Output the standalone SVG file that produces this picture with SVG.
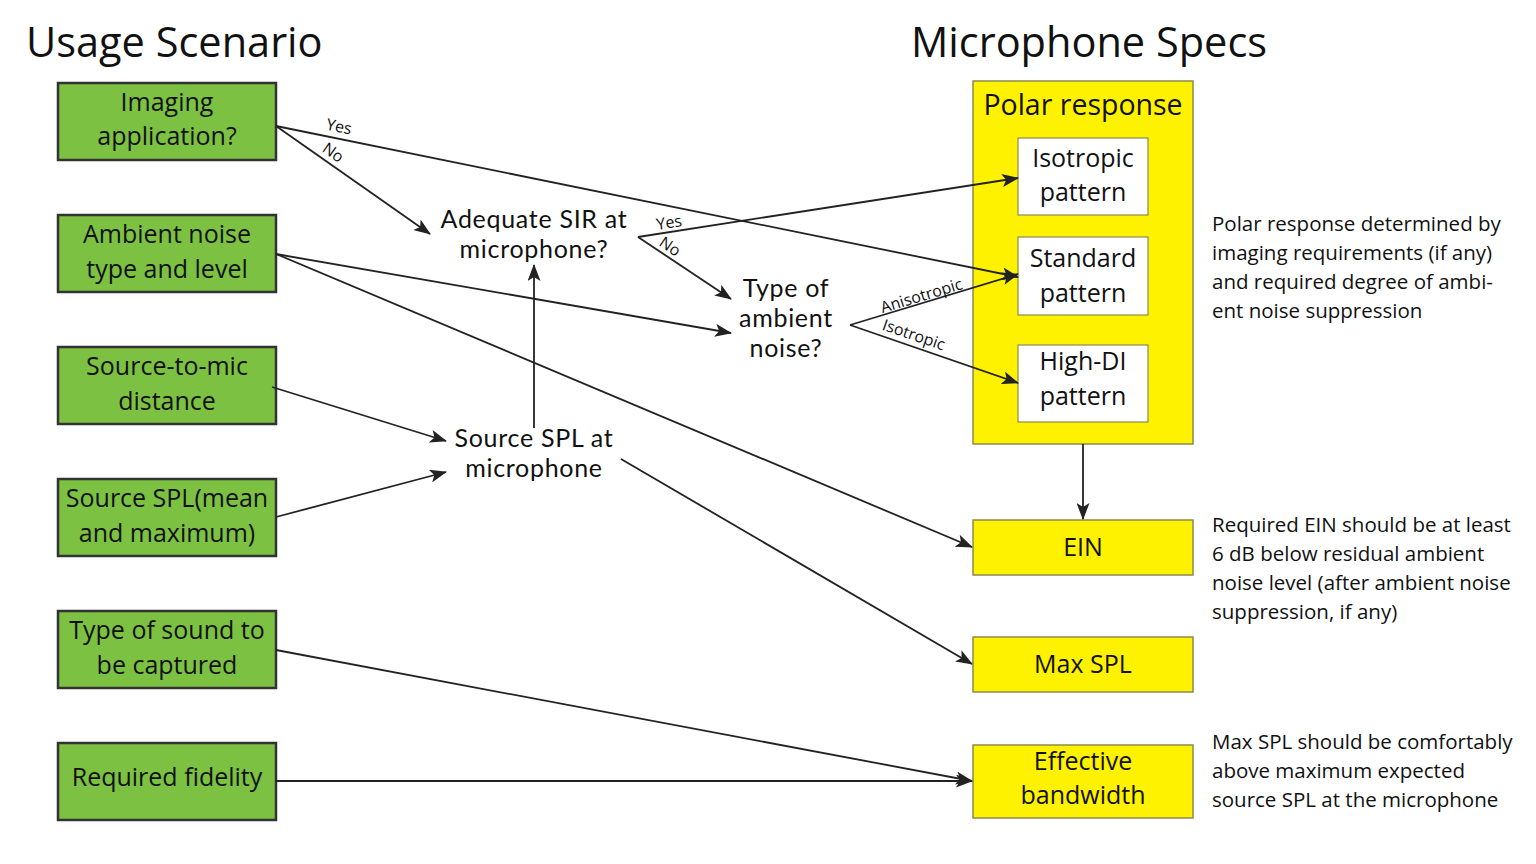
<svg xmlns="http://www.w3.org/2000/svg" width="1536" height="864" viewBox="0 0 1536 864">
<defs>
<marker id="ah" markerWidth="17" markerHeight="13" refX="16" refY="6.5" orient="auto" markerUnits="userSpaceOnUse">
<path d="M0,0 L17,6.5 L0,13 L4,6.5 z" fill="#222"/>
</marker>
<style>
text{font-family:"Open Sans",Lato,"Liberation Sans",sans-serif;fill:#111}
.title{font-size:41.5px}
.g{fill:#7dc142;stroke:#333;stroke-width:2.5}
.y{fill:#fff200;stroke:#8a8a50;stroke-width:1.5}
.w{fill:#fff;stroke:#8a8a50;stroke-width:1.2}
.t{font-size:25px;text-anchor:middle}
.f{font-family:Lato,"Open Sans",sans-serif;font-size:25px;letter-spacing:0.7px;text-anchor:middle}
.lbl{font-size:16px;text-anchor:middle}
.note{font-size:20.5px}
.c line,.c path{stroke:#222;stroke-width:1.8;fill:none}
.a{marker-end:url(#ah)}
</style>
</defs>
<rect width="1536" height="864" fill="#fff"/>
<text class="title" x="26" y="57">Usage Scenario</text>
<text class="title" x="911" y="57">Microphone Specs</text>

<g id="n-imaging"><rect class="g" x="58" y="83" width="218" height="77"/><text class="t" x="167" y="111">Imaging</text><text class="t" x="167" y="145">application?</text></g>
<g id="n-ambient"><rect class="g" x="58" y="215" width="218" height="77"/><text class="t" x="167" y="243">Ambient noise</text><text class="t" x="167" y="278">type and level</text></g>
<g id="n-distance"><rect class="g" x="58" y="347" width="218" height="77"/><text class="t" x="167" y="375">Source-to-mic</text><text class="t" x="167" y="410">distance</text></g>
<g id="n-sourcespl"><rect class="g" x="58" y="479" width="218" height="77"/><text class="t" x="167" y="507">Source SPL(mean</text><text class="t" x="167" y="542">and maximum)</text></g>
<g id="n-sound"><rect class="g" x="58" y="611" width="218" height="77"/><text class="t" x="167" y="639">Type of sound to</text><text class="t" x="167" y="674">be captured</text></g>
<g id="n-fidelity"><rect class="g" x="58" y="743" width="218" height="77"/><text class="t" x="167" y="786">Required fidelity</text></g>

<g id="n-sir"><text class="f" x="534" y="228">Adequate SIR at</text><text class="f" x="534" y="258">microphone?</text></g>
<g id="n-type"><text class="f" x="786" y="297">Type of</text><text class="f" x="786" y="327">ambient</text><text class="f" x="786" y="357">noise?</text></g>
<g id="n-splmic"><text class="f" x="534" y="447">Source SPL at</text><text class="f" x="534" y="477">microphone</text></g>

<g id="n-polar"><rect class="y" x="973" y="81" width="220" height="363"/><text x="1083" y="115" style="font-size:28.5px;text-anchor:middle">Polar response</text></g>
<g id="n-iso"><rect class="w" x="1018" y="138" width="130" height="77"/><text class="t" x="1083" y="167">Isotropic</text><text class="t" x="1083" y="201">pattern</text></g>
<g id="n-std"><rect class="w" x="1018" y="237" width="130" height="78"/><text class="t" x="1083" y="267">Standard</text><text class="t" x="1083" y="302">pattern</text></g>
<g id="n-hdi"><rect class="w" x="1018" y="345" width="130" height="77"/><text class="t" x="1083" y="370">High-DI</text><text class="t" x="1083" y="405">pattern</text></g>
<g id="n-ein"><rect class="y" x="973" y="520" width="220" height="55"/><text class="t" x="1083" y="556">EIN</text></g>
<g id="n-maxspl"><rect class="y" x="973" y="637" width="220" height="55"/><text class="t" x="1083" y="673">Max SPL</text></g>
<g id="n-bw"><rect class="y" x="973" y="745" width="220" height="73"/><text class="t" x="1083" y="770">Effective</text><text class="t" x="1083" y="804">bandwidth</text></g>

<g id="notes">
<text class="note" x="1212" y="231">Polar response determined by</text>
<text class="note" x="1212" y="260">imaging requirements (if any)</text>
<text class="note" x="1212" y="289">and required degree of ambi-</text>
<text class="note" x="1212" y="318">ent noise suppression</text>
<text class="note" x="1212" y="532">Required EIN should be at least</text>
<text class="note" x="1212" y="561">6 dB below residual ambient</text>
<text class="note" x="1212" y="590">noise level (after ambient noise</text>
<text class="note" x="1212" y="619">suppression, if any)</text>
<text class="note" x="1212" y="749">Max SPL should be comfortably</text>
<text class="note" x="1212" y="778">above maximum expected</text>
<text class="note" x="1212" y="807">source SPL at the microphone</text>
</g>

<g id="connectors" class="c">
<line class="a" x1="276" y1="126" x2="1018" y2="277"/>
<line class="a" x1="276" y1="126" x2="430" y2="234"/>
<line class="a" x1="638" y1="237" x2="1018" y2="178"/>
<line class="a" x1="638" y1="237" x2="731" y2="299"/>
<line class="a" x1="276" y1="254" x2="731" y2="333"/>
<line class="a" x1="276" y1="254" x2="972" y2="547"/>
<line class="a" x1="850" y1="325" x2="1018" y2="274"/>
<line class="a" x1="850" y1="325" x2="1018" y2="383"/>
<line class="a" x1="272" y1="387" x2="446" y2="441"/>
<line class="a" x1="276" y1="517" x2="446" y2="472"/>
<line class="a" x1="534" y1="428" x2="534" y2="265"/>
<line class="a" x1="621" y1="459" x2="972" y2="664"/>
<line class="a" x1="276" y1="650" x2="972" y2="781"/>
<line class="a" x1="276" y1="781" x2="972" y2="781"/>
<line class="a" x1="1083" y1="444" x2="1083" y2="519"/>
</g>
<g id="labels">
<text class="lbl" transform="translate(338,132) rotate(11.5)">Yes</text>
<text class="lbl" transform="translate(330,157) rotate(35)">No</text>
<text class="lbl" transform="translate(670,228) rotate(-8.8)">Yes</text>
<text class="lbl" transform="translate(667,251) rotate(33.7)">No</text>
<text class="lbl" transform="translate(923,301) rotate(-16.9)">Anisotropic</text>
<text class="lbl" transform="translate(912,340) rotate(19)">Isotropic</text>
</g>
</svg>
